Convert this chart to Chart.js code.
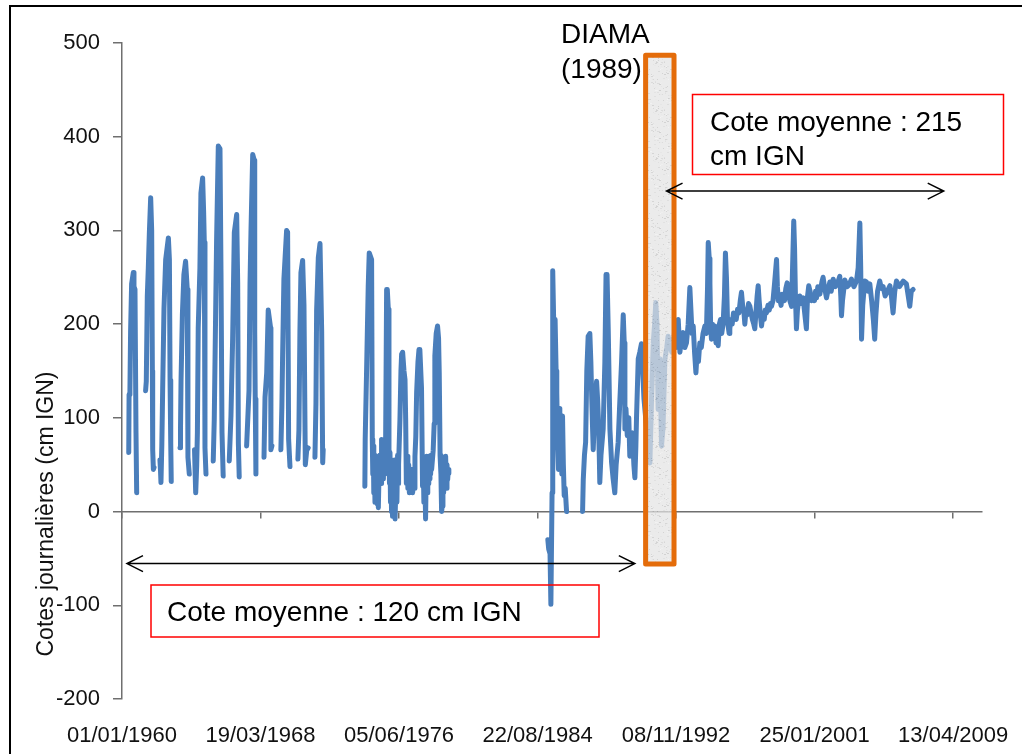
<!DOCTYPE html>
<html>
<head>
<meta charset="utf-8">
<script src="https://cdn.jsdelivr.net/npm/chart.js@4"></script>
<style>
    html, body { margin: 0; padding: 0; background: #fff; overflow: hidden; }
    #wrap { position: relative; width: 1022px; height: 754px; overflow: hidden; }
    #cadre { position: absolute; left: 9px; top: 5px; width: 1100px; height: 800px; border: 2px solid #000; box-sizing: border-box; }
    #graphe { position: absolute; left: 0; top: 0; }
</style>
</head>
<body>
<div id="wrap">
    <div id="cadre"></div>
    <canvas id="graphe" width="1022" height="754"></canvas>
</div>
<script>
// Axe des x : jours depuis le 01/01/1960, graduations tous les 3000 jours
const tickJours = [0, 3000, 6000, 9000, 12000, 15000, 18000];
const tickLabels = ["01/01/1960", "19/03/1968", "05/06/1976", "22/08/1984", "08/11/1992", "25/01/2001", "13/04/2009"];
const yTicks = [-200, -100, 0, 100, 200, 300, 400, 500];

// Cotes journalières (cm IGN), [année décimale, cote] ; null = lacune
const crues1960_1972 = [
    [1960.40, 63], [1960.42, 125], [1960.47, 130], [1960.51, 193], [1960.57, 243], [1960.67, 255], [1960.71, 240], [1960.77, 237], [1960.83, 84], [1960.87, 20],
    null,
    [1961.40, 129], [1961.44, 139], [1961.50, 230], [1961.56, 260], [1961.62, 296], [1961.70, 335], [1961.76, 300], [1961.80, 150], [1961.82, 66], [1961.86, 45], [1961.90, 47],
    null,
    [1962.25, 55], [1962.28, 45], [1962.31, 31], [1962.36, 70], [1962.41, 129], [1962.49, 217], [1962.59, 269], [1962.70, 285], [1962.75, 292], [1962.81, 269], [1962.85, 140], [1962.89, 73], [1962.92, 32],
    null,
    [1963.44, 68], [1963.47, 90], [1963.50, 139], [1963.58, 210], [1963.67, 253], [1963.77, 267], [1963.87, 237], [1963.91, 58], [1963.99, 40],
    null,
    [1964.30, 66], [1964.37, 20], [1964.43, 50], [1964.47, 84], [1964.52, 196], [1964.62, 260], [1964.68, 340], [1964.78, 356], [1964.84, 320], [1964.88, 287], [1964.92, 68], [1964.98, 40],
    null,
    [1965.41, 54], [1965.47, 98], [1965.55, 209], [1965.61, 291], [1965.71, 390], [1965.81, 387], [1965.87, 255], [1965.93, 84], [1966.00, 38],
    null,
    [1966.36, 54], [1966.46, 102], [1966.56, 184], [1966.66, 298], [1966.80, 317], [1966.86, 244], [1966.90, 73], [1966.95, 37],
    null,
    [1967.39, 70], [1967.53, 129], [1967.59, 243], [1967.65, 301], [1967.75, 381], [1967.84, 375], [1967.87, 192], [1967.90, 120], [1967.94, 40],
    null,
    [1968.42, 58], [1968.48, 122], [1968.58, 148], [1968.67, 215], [1968.81, 196], [1968.83, 66], [1968.89, 70],
    null,
    [1969.42, 66], [1969.48, 112], [1969.52, 162], [1969.60, 248], [1969.76, 300], [1969.82, 298], [1969.88, 77], [1969.96, 48],
    null,
    [1970.43, 56], [1970.49, 87], [1970.55, 193], [1970.61, 255], [1970.71, 268], [1970.79, 220], [1970.87, 50], [1970.95, 65], [1971.04, 68],
    null,
    [1971.44, 58], [1971.50, 115], [1971.54, 215], [1971.64, 271], [1971.74, 286], [1971.84, 192], [1971.90, 52], [1971.93, 66]
];

const crues1974_1979 = [
    [1974.40, 27], [1974.42, 77], [1974.50, 148], [1974.60, 241], [1974.66, 276], [1974.80, 269], [1974.84, 77], [1974.87, 40], [1974.90, 70], [1974.93, 20],
    [1974.96, 60], [1975.00, 10], [1975.03, 55], [1975.06, 15], [1975.10, 50], [1975.13, 8], [1975.17, 45], [1975.20, 4], [1975.24, 40], [1975.28, 60],
    [1975.31, 35], [1975.33, 50], [1975.36, 30], [1975.39, 77], [1975.42, 40], [1975.45, 55], [1975.48, 35], [1975.50, 65], [1975.54, 40], [1975.58, 50],
    [1975.63, 70], [1975.69, 237], [1975.73, 237], [1975.79, 216], [1975.83, 67],
    [1975.86, 30], [1975.89, 63], [1975.92, 10], [1975.95, 55], [1975.98, 0], [1976.01, 50], [1976.04, -5], [1976.08, 45], [1976.12, 5], [1976.16, 55],
    [1976.19, -8], [1976.22, -8], [1976.26, 40], [1976.30, 10], [1976.34, 60], [1976.37, 30], [1976.40, 50], [1976.48, 98], [1976.54, 150], [1976.58, 168], [1976.64, 170],
    [1976.72, 150], [1976.78, 141], [1976.82, 98], [1976.86, 30], [1976.91, 59], [1976.95, 25], [1977.00, 50], [1977.04, 20], [1977.08, 45], [1977.13, 22],
    [1977.18, 45], [1977.23, 20], [1977.27, 27], [1977.30, 45], [1977.33, 25], [1977.37, 59], [1977.42, 80], [1977.47, 127], [1977.55, 160], [1977.61, 173], [1977.66, 173],
    [1977.76, 131], [1977.82, 27], [1977.86, 55], [1977.90, 10], [1977.95, 45], [1978.00, -8], [1978.03, 30], [1978.06, 59], [1978.10, 20], [1978.13, 50], [1978.16, 30],
    [1978.19, 59], [1978.22, 35], [1978.26, 55], [1978.30, 40], [1978.33, 60], [1978.36, 45], [1978.45, 65], [1978.51, 94], [1978.55, 166], [1978.63, 190], [1978.71, 198], [1978.77, 185], [1978.81, 148],
    [1978.86, 60], [1978.91, 40], [1978.95, 0], [1978.99, 6], [1979.03, 48], [1979.07, 20], [1979.12, 55], [1979.16, 30], [1979.19, 59], [1979.23, 25],
    [1979.27, 50], [1979.31, 34], [1979.35, 45], [1979.38, 41]
];

const crues1985_1986 = [
    [1985.25, -30], [1985.30, -40], [1985.38, -45], [1985.43, -99], [1985.50, 20], [1985.54, 257], [1985.60, 200], [1985.68, 205], [1985.74, 150], [1985.78, 127],
    [1985.83, 70], [1985.88, 45], [1985.92, 110], [1985.96, 59], [1986.02, 80], [1986.08, 40], [1986.12, 102], [1986.17, 50], [1986.22, 17], [1986.28, 25], [1986.36, 0]
];

const crues1987_1992 = [
    [1987.31, 0], [1987.35, 34], [1987.42, 60], [1987.49, 74], [1987.56, 150], [1987.64, 187], [1987.74, 190], [1987.80, 160], [1987.84, 130], [1987.90, 90],
    [1987.94, 66], [1988.04, 116], [1988.14, 139], [1988.20, 120], [1988.24, 102], [1988.30, 60], [1988.33, 31], [1988.40, 60], [1988.53, 88], [1988.63, 159],
    [1988.70, 253], [1988.76, 253], [1988.83, 195], [1988.93, 88], [1988.98, 70], [1989.03, 52], [1989.12, 35], [1989.22, 20], [1989.30, 50], [1989.42, 74],
    [1989.50, 110], [1989.62, 159], [1989.72, 210], [1989.78, 180], [1989.82, 88], [1989.88, 110], [1989.96, 81], [1990.05, 100], [1990.11, 59], [1990.20, 75],
    [1990.27, 84], [1990.35, 50], [1990.41, 36], [1990.47, 70], [1990.51, 102], [1990.61, 163], [1990.70, 170], [1990.80, 179],
    [1990.95, 120], [1991.10, 90], [1991.20, 60], [1991.30, 52], [1991.40, 120], [1991.50, 180], [1991.58, 200], [1991.65, 223], [1991.72, 200], [1991.79, 109],
    [1991.85, 140], [1991.89, 163], [1991.95, 110], [1991.99, 70], [1992.08, 90], [1992.19, 163], [1992.30, 175], [1992.38, 187], [1992.48, 180], [1992.60, 170],
    [1992.75, 190], [1992.85, 175]
];

const cotes1993_2006 = [
    [1992.98, 205], [1993.08, 170], [1993.17, 185], [1993.27, 191], [1993.37, 175], [1993.47, 180], [1993.57, 200], [1993.67, 239], [1993.72, 220], [1993.80, 190],
    [1993.87, 198], [1993.95, 170], [1994.03, 148], [1994.10, 170], [1994.18, 160], [1994.26, 180], [1994.35, 175], [1994.45, 190], [1994.56, 198], [1994.65, 190],
    [1994.72, 240], [1994.76, 287], [1994.82, 270], [1994.86, 244], [1994.90, 200], [1994.95, 184], [1995.02, 200], [1995.08, 185], [1995.15, 198], [1995.22, 180],
    [1995.30, 195], [1995.35, 177], [1995.42, 200], [1995.49, 205], [1995.56, 190], [1995.64, 200], [1995.72, 230], [1995.78, 276], [1995.84, 250], [1995.90, 205],
    [1995.94, 198], [1996.00, 190], [1996.04, 195], [1996.10, 205], [1996.18, 200], [1996.26, 212], [1996.34, 209], [1996.42, 205], [1996.50, 216], [1996.58, 212],
    [1996.66, 225], [1996.73, 234], [1996.80, 220], [1996.88, 212], [1996.93, 200], [1997.00, 215], [1997.08, 210], [1997.15, 222], [1997.23, 219], [1997.30, 212],
    [1997.38, 205], [1997.46, 200], [1997.52, 195], [1997.58, 210], [1997.66, 230], [1997.72, 241], [1997.78, 225], [1997.85, 210], [1997.92, 198], [1998.00, 210],
    [1998.08, 205], [1998.14, 215], [1998.21, 212], [1998.30, 220], [1998.38, 215], [1998.45, 222], [1998.51, 219], [1998.60, 225], [1998.70, 245], [1998.81, 269],
    [1998.86, 240], [1998.92, 225], [1999.00, 227], [1999.08, 220], [1999.14, 232], [1999.20, 230], [1999.28, 225], [1999.36, 238], [1999.44, 244], [1999.52, 232],
    [1999.60, 225], [1999.70, 219], [1999.76, 260], [1999.83, 310], [1999.88, 280], [1999.93, 230], [1999.99, 195], [2000.05, 215], [2000.12, 225], [2000.19, 230],
    [2000.26, 222], [2000.33, 225], [2000.39, 228], [2000.46, 215], [2000.52, 205], [2000.58, 195], [2000.65, 230], [2000.72, 241], [2000.80, 235], [2000.88, 225],
    [2000.98, 230], [2001.06, 225], [2001.12, 235], [2001.18, 228], [2001.26, 240], [2001.38, 232], [2001.50, 245], [2001.57, 250], [2001.65, 240], [2001.77, 228],
    [2001.85, 235], [2001.97, 245], [2002.05, 235], [2002.17, 248], [2002.30, 240], [2002.45, 245], [2002.56, 251], [2002.62, 230], [2002.66, 209], [2002.72, 225],
    [2002.86, 247], [2003.00, 240], [2003.12, 242], [2003.25, 248], [2003.40, 240], [2003.55, 246], [2003.65, 260], [2003.75, 308], [2003.80, 260], [2003.85, 184],
    [2003.92, 220], [2004.04, 246], [2004.14, 245], [2004.24, 235], [2004.34, 243], [2004.45, 225], [2004.55, 205], [2004.63, 184], [2004.70, 210], [2004.80, 235],
    [2004.93, 246], [2005.03, 238], [2005.13, 240], [2005.25, 230], [2005.38, 235], [2005.53, 241], [2005.62, 230], [2005.72, 212], [2005.82, 235], [2005.92, 246],
    [2006.10, 240], [2006.32, 246], [2006.51, 243], [2006.62, 230], [2006.71, 219], [2006.80, 235], [2006.91, 237]
];

// Annotations (en coordonnées des axes : jours / cm IGN)
const barrage = { debut: 11340, fin: 11955, haut: 487, bas: -56 };
const flecheAvant = { debut: 108, fin: 11106, cote: -55.5 };
const flecheApres = { debut: 11793, fin: 17796, cote: 342 };

const couleurLigne = "#4a7ebb";
const couleurAxe = "#6f6f6f";
const couleurTexte = "#111";
const police = "'Liberation Sans', Arial, sans-serif";

const toJours = a => (a - 1960) * 365.25;

function construireSerie(periodes) {
    const points = [];
    periodes.forEach(periode => {
        periode.forEach(pt => {
            if (pt === null) {
                points.push({ x: points[points.length - 1].x + 1, y: null });
            } else {
                points.push({ x: toJours(pt[0]), y: pt[1] });
            }
        });
        points.push({ x: points[points.length - 1].x + 1, y: null });
    });
    return points;
}

const serie = construireSerie([crues1960_1972, crues1974_1979, crues1985_1986, crues1987_1992.concat(cotes1993_2006)]);

// motif granité gris du rectangle du barrage
function motifGranite(ctx) {
    const c = document.createElement("canvas");
    c.width = 48; c.height = 48;
    const g = c.getContext("2d");
    g.fillStyle = "#e3e3e3";
    g.fillRect(0, 0, 48, 48);
    for (let i = 0; i < 260; i++) {
        const px = (i * 53 + (i * i) % 11) % 48;
        const py = (i * 29 + (i * i * 7) % 17) % 48;
        const t = 190 + ((i * 37) % 50);
        g.fillStyle = `rgb(${t},${t},${t})`;
        g.fillRect(px, py, 1 + (i % 3 === 0 ? 1 : 0), 1);
    }
    return ctx.createPattern(c, "repeat");
}

function fleche(ctx, xa, xb, y) {
    ctx.beginPath();
    ctx.moveTo(xa, y); ctx.lineTo(xb, y);
    ctx.moveTo(xa + 16, y - 8); ctx.lineTo(xa, y); ctx.lineTo(xa + 16, y + 8);
    ctx.moveTo(xb - 16, y - 8); ctx.lineTo(xb, y); ctx.lineTo(xb - 16, y + 8);
    ctx.stroke();
}

const annotations = {
    id: "annotations",
    afterDatasetsDraw(chart) {
        const { ctx, scales: { x, y } } = chart;
        ctx.save();

        // rectangle DIAMA
        const rx0 = x.getPixelForValue(barrage.debut), rx1 = x.getPixelForValue(barrage.fin);
        const ry0 = y.getPixelForValue(barrage.haut), ry1 = y.getPixelForValue(barrage.bas);
        ctx.globalAlpha = 0.72;
        ctx.fillStyle = motifGranite(ctx);
        ctx.fillRect(rx0, ry0, rx1 - rx0, ry1 - ry0);
        ctx.globalAlpha = 1;
        ctx.strokeStyle = "#e46c0a";
        ctx.lineWidth = 5;
        ctx.lineJoin = "round";
        ctx.strokeRect(rx0, ry0, rx1 - rx0, ry1 - ry0);

        // flèches
        ctx.strokeStyle = "#000";
        ctx.lineWidth = 1.5;
        ctx.lineJoin = "miter";
        fleche(ctx, x.getPixelForValue(flecheAvant.debut), x.getPixelForValue(flecheAvant.fin), y.getPixelForValue(flecheAvant.cote));
        fleche(ctx, x.getPixelForValue(flecheApres.debut), x.getPixelForValue(flecheApres.fin), y.getPixelForValue(flecheApres.cote));

        // encadrés rouges
        ctx.strokeStyle = "#ff0000";
        ctx.lineWidth = 1.5;
        ctx.strokeRect(151, 585, 448, 52);
        ctx.strokeRect(692.5, 94.5, 311, 80);

        ctx.fillStyle = "#000";
        ctx.font = "28px " + police;
        ctx.textAlign = "left";
        ctx.textBaseline = "alphabetic";
        ctx.fillText("Cote moyenne : 120 cm IGN", 167, 621);
        ctx.fillText("Cote moyenne : 215", 710, 131);
        ctx.fillText("cm IGN", 710, 165);
        ctx.fillText("DIAMA", 561, 43);
        ctx.fillText("(1989)", 561, 78);

        // titre de l'axe des y
        ctx.save();
        ctx.translate(53, 514);
        ctx.rotate(-Math.PI / 2);
        ctx.textAlign = "center";
        ctx.fillStyle = couleurTexte;
        ctx.font = "23px " + police;
        ctx.fillText("Cotes journalières (cm IGN)", 0, 0);
        ctx.restore();

        ctx.restore();
    }
};

const fixerTicks = s => { s.ticks = tickJours.map(v => ({ value: v })); };

new Chart(document.getElementById("graphe"), {
    type: "line",
    data: {
        datasets: [{
            data: serie,
            xAxisID: "x",
            yAxisID: "y",
            borderColor: couleurLigne,
            borderWidth: 5,
            borderJoinStyle: "round",
            borderCapStyle: "round",
            pointRadius: 0,
            tension: 0,
            spanGaps: false,
            fill: false
        }]
    },
    options: {
        responsive: false,
        animation: false,
        layout: { padding: { top: 43, right: 40, bottom: 0, left: 0 } },
        plugins: { legend: { display: false }, tooltip: { enabled: false } },
        scales: {
            x: {
                type: "linear",
                position: "bottom",
                min: 0,
                max: 18625,
                afterBuildTicks: fixerTicks,
                grid: { display: false, drawTicks: false },
                border: { display: false },
                ticks: {
                    autoSkip: false,
                    maxRotation: 0,
                    padding: 24,
                    color: couleurTexte,
                    font: { family: police, size: 22 },
                    callback: v => tickLabels[tickJours.indexOf(v)]
                },
                afterFit: s => { s.height = 55; s.paddingLeft = 0; s.paddingRight = 0; }
            },
            xZero: {
                type: "linear",
                axis: "x",
                position: { y: 0 },
                min: 0,
                max: 18625,
                afterBuildTicks: fixerTicks,
                ticks: { display: false },
                grid: { drawOnChartArea: false, drawTicks: true, tickLength: 6, color: couleurAxe, lineWidth: 1.5 },
                border: { display: true, color: couleurAxe, width: 1.5 },
                afterFit: s => { s.paddingLeft = 0; s.paddingRight = 0; }
            },
            y: {
                min: -200,
                max: 500,
                afterBuildTicks: s => { s.ticks = yTicks.map(v => ({ value: v })); },
                ticks: { padding: 13, color: couleurTexte, font: { family: police, size: 22 } },
                grid: { drawOnChartArea: false, drawTicks: true, tickLength: 9, color: couleurAxe, lineWidth: 1.5 },
                border: { display: true, color: couleurAxe, width: 1.5 },
                afterFit: s => { s.width = 122; }
            }
        }
    },
    plugins: [annotations]
});
</script>
</body>
</html>
